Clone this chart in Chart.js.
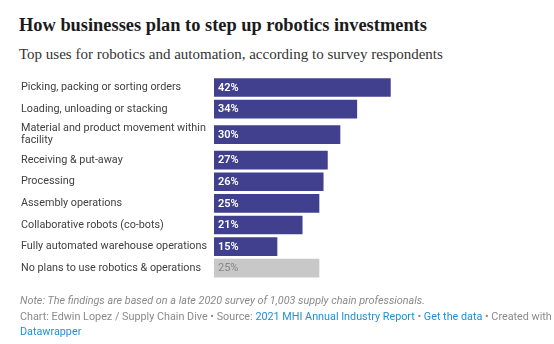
<!DOCTYPE html>
<html>
<head>
<meta charset="utf-8">
<script src="https://cdn.jsdelivr.net/npm/chart.js@4.4.1/dist/chart.umd.min.js"></script>
<style>
  html, body { margin: 0; padding: 0; background: #fff; }
  body { width: 554px; height: 344px; position: relative; overflow: hidden; font-family: Roboto, sans-serif; }
  #title { position: absolute; left: 19px; top: 15px; font: bold 18.4px/20px "Liberation Serif", serif; color: #1b1b1b; white-space: nowrap; }
  #sub { position: absolute; left: 19px; top: 46px; font: 15px/17px "Liberation Serif", serif; color: #333; white-space: nowrap; }
  #wrap { position: absolute; left: 0; top: 0; width: 554px; height: 344px; }
  #notes { position: absolute; left: 20px; top: 293px; font: 10.8px/15px Roboto, sans-serif; color: #8a8a8a; white-space: nowrap; }
  #notes .note { font-style: italic; margin-bottom: 1px; }
  #notes a { color: #1f8fd6; text-decoration: none; }
</style>
</head>
<body>
<div id="title">How businesses plan to step up robotics investments</div>
<div id="sub">Top uses for robotics and automation, according to survey respondents</div>
<div id="wrap"><canvas id="c" width="554" height="344"></canvas></div>
<div id="notes">
  <div class="note">Note: The findings are based on a late 2020 survey of 1,003 supply chain professionals.</div>
  <div>Chart: Edwin Lopez / Supply Chain Dive • Source: <a>2021 MHI Annual Industry Report</a> • <a>Get the data</a> • Created with<br><a>Datawrapper</a></div>
</div>
<script>
// Survey categories (multi-line labels are arrays) and share of respondents, in percent
const categories = [
  'Picking, packing or sorting orders',
  'Loading, unloading or stacking',
  ['Material and product movement within', 'facility'],
  'Receiving & put-away',
  'Processing',
  'Assembly operations',
  'Collaborative robots (co-bots)',
  'Fully automated warehouse operations',
  'No plans to use robotics & operations'
];
const values = [42, 34, 30, 27, 26, 25, 21, 15, 25];
const highlighted = [true, true, true, true, true, true, true, true, false];

const BAR_COLOR = '#40408f';
const MUTED_COLOR = '#c8c8c8';

// Each row is as tall as its label needs; rows with two label lines get extra room.
const BASE_ROW = 21.6, EXTRA_LINE = 7.8;
const rowCenters = [];
let cursor = 0;
categories.forEach(c => {
  const lines = Array.isArray(c) ? c.length : 1;
  const h = BASE_ROW + (lines - 1) * EXTRA_LINE;
  rowCenters.push(cursor + h / 2);
  cursor += h;
});
const totalHeight = cursor;

// Category names to the left of the bars, and the value printed inside each bar
const rowLabels = {
  id: 'rowLabels',
  afterDatasetsDraw(chart) {
    const ctx = chart.ctx;
    const meta = chart.getDatasetMeta(0);
    const yScale = chart.scales.y;
    ctx.save();
    ctx.textBaseline = 'middle';
    ctx.textAlign = 'left';

    ctx.font = '400 10.8px Roboto, sans-serif';
    ctx.fillStyle = '#404040';
    const LINE = 12;
    categories.forEach((c, i) => {
      const lines = Array.isArray(c) ? c : [c];
      const cy = yScale.getPixelForValue(rowCenters[i]);
      lines.forEach((t, k) => {
        ctx.fillText(t, 21, cy + (k - (lines.length - 1) / 2) * LINE);
      });
    });

    meta.data.forEach((bar, i) => {
      const on = highlighted[i];
      ctx.font = (on ? '600 ' : '400 ') + '11px Roboto, sans-serif';
      ctx.fillStyle = on ? '#ffffff' : '#858585';
      ctx.fillText(values[i] + '%', bar.base + 4, bar.y + 0.5);
    });
    ctx.restore();
  }
};

new Chart(document.getElementById('c'), {
  type: 'bar',
  data: {
    datasets: [{
      data: values.map((v, i) => ({ x: v, y: rowCenters[i] })),
      backgroundColor: highlighted.map(h => h ? BAR_COLOR : MUTED_COLOR),
      borderWidth: 0,
      barThickness: 18
    }]
  },
  options: {
    indexAxis: 'y',
    responsive: false,
    animation: false,
    layout: { padding: { top: 76.7, bottom: 65, left: 214, right: 130 } },
    plugins: { legend: { display: false }, tooltip: { enabled: false } },
    scales: {
      x: { type: 'linear', min: 0, max: 50, display: false },
      y: { type: 'linear', reverse: true, offset: false, min: 0, max: totalHeight, display: false }
    }
  },
  plugins: [rowLabels]
});
</script>
</body>
</html>
